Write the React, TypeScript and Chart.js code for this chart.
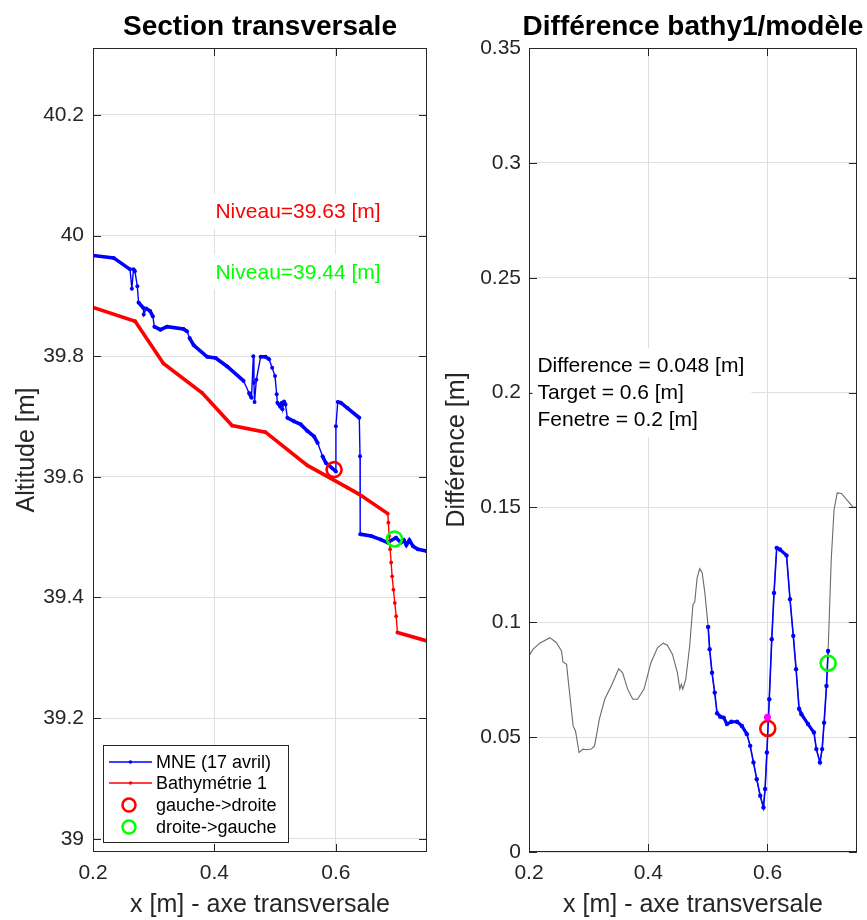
import React, { useEffect, useRef } from 'react';
import { Chart, registerables } from 'chart.js';

Chart.register(...registerables);

const W = 867;
const H = 920;
const FONT = '"Liberation Sans", Arial, Helvetica, sans-serif';
const INK = '#262626';
const GRID = '#dfdfdf';

// ---------------- Left panel : Section transversale ----------------
const leftTitle = 'Section transversale';
const leftYLabel = 'Altitude [m]';
const xLabel = 'x [m] - axe transversale';

const mneX = [
  0.2, 0.234, 0.261, 0.264, 0.2667, 0.269, 0.273, 0.275, 0.283, 0.2835, 0.2876, 0.294, 0.2986, 0.301,
  0.311, 0.322, 0.349, 0.355, 0.359, 0.366, 0.388, 0.402, 0.421, 0.448, 0.457, 0.461, 0.464, 0.465,
  0.466, 0.469, 0.476, 0.484, 0.49, 0.495, 0.4997, 0.5025, 0.5036, 0.508, 0.511, 0.512, 0.5146, 0.517,
  0.52, 0.531, 0.542, 0.553, 0.564, 0.57, 0.578, 0.5835, 0.6, 0.6, 0.603, 0.608, 0.619, 0.6385, 0.6397,
  0.64, 0.658, 0.674, 0.685, 0.699, 0.707, 0.712, 0.716, 0.721, 0.727, 0.735, 0.749, 0.75,
];
const mneY = [
  39.967, 39.963, 39.944, 39.912, 39.944, 39.941, 39.916, 39.889, 39.88, 39.869, 39.879, 39.875, 39.866, 39.849,
  39.844, 39.849, 39.845, 39.841, 39.83, 39.818, 39.799, 39.797, 39.783, 39.759, 39.739, 39.731, 39.8, 39.756,
  39.724, 39.761, 39.799, 39.799, 39.795, 39.781, 39.767, 39.737, 39.723, 39.717, 39.723, 39.712, 39.725, 39.72,
  39.698, 39.692, 39.687, 39.676, 39.667, 39.656, 39.634, 39.623, 39.609, 39.684, 39.724, 39.723, 39.714, 39.698, 39.634,
  39.505, 39.502, 39.496, 39.491, 39.499, 39.491, 39.495, 39.487, 39.495, 39.485, 39.48, 39.477, 39.477,
];

const bathyX = [
  0.2, 0.2694, 0.316, 0.38, 0.429, 0.484, 0.553, 0.619, 0.6385, 0.6854, 0.6864, 0.6876, 0.6893, 0.6909,
  0.6926, 0.6947, 0.697, 0.6992, 0.7013, 0.75,
];
const bathyY = [
  39.881, 39.858, 39.788, 39.739, 39.685, 39.674, 39.619, 39.582, 39.571, 39.539, 39.524, 39.502, 39.48, 39.458,
  39.435, 39.413, 39.391, 39.369, 39.342, 39.328,
];

const crossLRX = [0.597];
const crossLRY = [39.612];
const crossRLX = [0.6964];
const crossRLY = [39.497];

const niveauTexts = ['Niveau=39.63 [m]', 'Niveau=39.44 [m]'];
const niveauX = [0.4, 0.4];
const niveauY = [40.04, 39.94];

const legendLabels = ['MNE (17 avril)', 'Bathymétrie 1', 'gauche->droite', 'droite->gauche'];

// ---------------- Right panel : Différence bathy1/modèle ----------------
const rightTitle = 'Différence bathy1/modèle';
const rightYLabel = 'Différence [m]';

const diffX = [
  0.2, 0.207, 0.218, 0.235, 0.246, 0.2545, 0.257, 0.263, 0.268, 0.274, 0.278, 0.284, 0.2905, 0.296, 0.3045,
  0.31, 0.318, 0.327, 0.338, 0.3505, 0.357, 0.3655, 0.374, 0.382, 0.393, 0.4045, 0.4155, 0.425, 0.432, 0.4405,
  0.449, 0.453, 0.4555, 0.458, 0.463, 0.4695, 0.475, 0.478, 0.482, 0.4865, 0.4905, 0.495,
  0.5005, 0.503, 0.507, 0.5115, 0.5155, 0.521, 0.5265, 0.532, 0.5395, 0.549, 0.557, 0.5655, 0.571, 0.5765,
  0.582, 0.5878, 0.5933, 0.596, 0.599, 0.603, 0.6072, 0.611, 0.6155, 0.621, 0.632, 0.6378, 0.6433, 0.648,
  0.653, 0.657, 0.668, 0.678, 0.682, 0.688, 0.6917, 0.695, 0.699, 0.7017,
  0.707, 0.7117, 0.717, 0.724, 0.735, 0.7433, 0.75,
];
const diffY = [
  0.0854, 0.0883, 0.0909, 0.0933, 0.0911, 0.0875, 0.0827, 0.0817, 0.0694, 0.0549, 0.0527, 0.0433, 0.0448, 0.0445, 0.0448,
  0.0462, 0.0578, 0.0665, 0.0723, 0.0798, 0.078, 0.0709, 0.0665, 0.0665, 0.0709, 0.0824, 0.0889, 0.0909, 0.09, 0.0861,
  0.078, 0.0709, 0.073, 0.0709, 0.0752, 0.0897, 0.1078, 0.1088, 0.1193, 0.1233, 0.1215, 0.1128,
  0.098, 0.0883, 0.078, 0.0694, 0.0604, 0.0589, 0.0585, 0.0557, 0.0567, 0.0567, 0.0549, 0.0513, 0.0462, 0.039,
  0.0317, 0.0245, 0.0194, 0.0274, 0.0433, 0.0665, 0.0926, 0.1128, 0.1324, 0.1317, 0.1291, 0.11, 0.0941, 0.0796,
  0.0624, 0.06, 0.0557, 0.052, 0.0448, 0.039, 0.0448, 0.0563, 0.0723, 0.0875,
  0.1274, 0.1491, 0.1563, 0.1561, 0.1527, 0.1501, 0.1502,
];
const windowFrom = 0.5;
const windowTo = 0.702;

const diffLRX = [0.6005];
const diffLRY = [0.0538];
const diffRLX = [0.7017];
const diffRLY = [0.0822];
const targetX = [0.6];
const targetY = [0.0587];

const infoLines = ['Difference = 0.048 [m]', 'Target = 0.6 [m]', 'Fenetre = 0.2 [m]'];
const infoX = 0.2125;
const infoY = 0.2;

// ---------------- helpers ----------------
const pts = (xs: number[], ys: number[]) => xs.map((x, i) => ({ x, y: ys[i] }));
const fmt = (v: any) => String(Math.round(Number(v) * 1000) / 1000);

const segWidth = (thick: number, thin: number) => (ctx: any) => {
  const dx = Math.abs(ctx.p1.x - ctx.p0.x);
  const dy = Math.abs(ctx.p1.y - ctx.p0.y);
  return dy > 2 * dx && dy > 6 ? thin : thick;
};

type TextBlock = { x: number; y: number; lines: string[]; color: string };

function makeDecor(title: string, blocks: TextBlock[], legend: boolean) {
  return {
    id: 'decor',
    afterDatasetsDraw(chart: any) {
      const { ctx, chartArea: a, scales } = chart;
      const xs = scales.x;
      const ys = scales.y;
      ctx.save();
      // axes box
      ctx.strokeStyle = INK;
      ctx.lineWidth = 1;
      ctx.strokeRect(Math.round(a.left) + 0.5, Math.round(a.top) + 0.5, Math.round(a.right - a.left) - 1, Math.round(a.bottom - a.top) - 1);
      // inward ticks on all sides
      const TL = 8;
      ctx.beginPath();
      xs.ticks.forEach((t: any) => {
        const px = Math.round(xs.getPixelForValue(t.value)) + 0.5;
        ctx.moveTo(px, a.bottom);
        ctx.lineTo(px, a.bottom - TL);
        ctx.moveTo(px, a.top);
        ctx.lineTo(px, a.top + TL);
      });
      ys.ticks.forEach((t: any) => {
        const py = Math.round(ys.getPixelForValue(t.value)) + 0.5;
        ctx.moveTo(a.left, py);
        ctx.lineTo(a.left + TL, py);
        ctx.moveTo(a.right, py);
        ctx.lineTo(a.right - TL, py);
      });
      ctx.stroke();

      // title
      ctx.font = `bold 28px ${FONT}`;
      ctx.fillStyle = '#000';
      ctx.textAlign = 'center';
      ctx.textBaseline = 'alphabetic';
      ctx.fillText(title, (a.left + a.right) / 2, 35);

      // text annotations with white background
      ctx.font = `21px ${FONT}`;
      const lh = 27;
      blocks.forEach((b) => {
        const px = xs.getPixelForValue(b.x);
        const py = ys.getPixelForValue(b.y);
        const w = Math.max(...b.lines.map((l) => ctx.measureText(l).width));
        const h = lh * b.lines.length;
        ctx.fillStyle = '#fff';
        ctx.fillRect(px - 4, py - h / 2 - 4, w + 12, h + 8);
        ctx.fillStyle = b.color;
        ctx.textAlign = 'left';
        ctx.textBaseline = 'middle';
        b.lines.forEach((l, i) => ctx.fillText(l, px + 1, py - h / 2 + lh * (i + 0.5) + 1));
      });

      // legend (south-west)
      if (legend) {
        const L = a.left + 10;
        const B = a.bottom - 10;
        const bw = 185;
        const bh = 97;
        const T = B - bh;
        ctx.fillStyle = '#fff';
        ctx.fillRect(L, T, bw, bh);
        ctx.strokeStyle = INK;
        ctx.lineWidth = 1;
        ctx.strokeRect(Math.round(L) + 0.5, Math.round(T) + 0.5, bw, bh);
        const rows = [17, 38, 60, 82];
        const colors = ['#0000ff', '#ff0000', '#ff0000', '#00ff00'];
        ctx.font = `18px ${FONT}`;
        rows.forEach((ry, i) => {
          const y = T + ry;
          if (i < 2) {
            ctx.strokeStyle = colors[i];
            ctx.lineWidth = 1.3;
            ctx.beginPath();
            ctx.moveTo(L + 6, y);
            ctx.lineTo(L + 49, y);
            ctx.stroke();
            ctx.fillStyle = colors[i];
            ctx.beginPath();
            ctx.arc(L + 27.5, y, 1.8, 0, Math.PI * 2);
            ctx.fill();
          } else {
            ctx.strokeStyle = colors[i];
            ctx.lineWidth = 2.5;
            ctx.beginPath();
            ctx.arc(L + 26, y, 6.5, 0, Math.PI * 2);
            ctx.stroke();
          }
          ctx.fillStyle = '#000';
          ctx.textAlign = 'left';
          ctx.textBaseline = 'middle';
          ctx.fillText(legendLabels[i], L + 53, y + 1);
        });
      }
      ctx.restore();
    },
  };
}

function xScale() {
  return {
    type: 'linear',
    min: 0.2,
    max: 0.75,
    afterFit: (s: any) => {
      s.height = 68;
    },
    ticks: {
      stepSize: 0.2,
      includeBounds: false,
      padding: 9,
      maxRotation: 0,
      autoSkip: false,
      color: INK,
      font: { size: 21, family: FONT },
      callback: fmt,
    },
    grid: { color: GRID, drawTicks: false, lineWidth: 1 },
    border: { display: false },
    title: {
      display: true,
      text: xLabel,
      color: INK,
      font: { size: 25, family: FONT },
      padding: { top: 0, bottom: 0 },
    },
  };
}

function yScale(min: number, max: number, step: number, width: number, label: string, pad: number) {
  return {
    type: 'linear',
    min,
    max,
    afterFit: (s: any) => {
      s.width = width;
    },
    ticks: {
      stepSize: step,
      includeBounds: false,
      padding: pad,
      autoSkip: false,
      color: INK,
      font: { size: 21, family: FONT },
      callback: fmt,
    },
    grid: { color: GRID, drawTicks: false, lineWidth: 1 },
    border: { display: false },
    title: {
      display: true,
      text: label,
      color: INK,
      font: { size: 25, family: FONT },
      padding: { top: 12, bottom: 0 },
    },
  };
}

const circle = (label: string, data: any[], color: string, order: number) => ({
  label,
  data,
  showLine: false,
  pointRadius: 7.5,
  pointHoverRadius: 7.5,
  pointBorderWidth: 2.6,
  borderColor: color,
  backgroundColor: 'rgba(0,0,0,0)',
  order,
});

function leftConfig(): any {
  return {
    type: 'scatter',
    data: {
      datasets: [
        {
          label: legendLabels[0],
          data: pts(mneX, mneY),
          showLine: true,
          borderColor: '#0000ff',
          backgroundColor: '#0000ff',
          borderWidth: 3.6,
          pointRadius: 2,
          pointBorderWidth: 0,
          segment: { borderWidth: segWidth(3.6, 1.4) },
          order: 3,
        },
        {
          label: legendLabels[1],
          data: pts(bathyX, bathyY),
          showLine: true,
          borderColor: '#ff0000',
          backgroundColor: '#ff0000',
          borderWidth: 3.6,
          pointRadius: 1.9,
          pointBorderWidth: 0,
          segment: { borderWidth: segWidth(3.6, 1.4) },
          order: 2,
        },
        circle(legendLabels[2], pts(crossLRX, crossLRY), '#ff0000', 1),
        circle(legendLabels[3], pts(crossRLX, crossRLY), '#00ff00', 0),
      ],
    },
    options: {
      animation: false,
      responsive: false,
      devicePixelRatio: 1,
      events: [],
      layout: { padding: { left: 0, right: W - 427, top: 48, bottom: 0 } },
      plugins: { legend: { display: false }, tooltip: { enabled: false }, title: { display: false } },
      scales: {
        x: xScale(),
        y: yScale(38.978, 40.311, 0.2, 93, leftYLabel, 9),
      },
    },
    plugins: [
      makeDecor(
        leftTitle,
        [
          { x: niveauX[0], y: niveauY[0], lines: [niveauTexts[0]], color: '#ff0000' },
          { x: niveauX[1], y: niveauY[1], lines: [niveauTexts[1]], color: '#00ff00' },
        ],
        true,
      ),
    ],
  };
}

function rightConfig(): any {
  const inWin = diffX.map((x, i) => ({ x, y: diffY[i] })).filter((p) => p.x >= windowFrom && p.x <= windowTo);
  return {
    type: 'scatter',
    data: {
      datasets: [
        {
          label: 'difference',
          data: pts(diffX, diffY),
          showLine: true,
          borderColor: '#6a6a6a',
          borderWidth: 1.1,
          pointRadius: 0,
          order: 5,
        },
        {
          label: 'fenetre',
          data: inWin,
          showLine: true,
          borderColor: '#0000ff',
          backgroundColor: '#0000ff',
          borderWidth: 3.2,
          pointRadius: 2.2,
          pointBorderWidth: 0,
          segment: { borderWidth: segWidth(3.2, 1.6) },
          order: 4,
        },
        circle('gauche->droite', pts(diffLRX, diffLRY), '#ff0000', 2),
        circle('droite->gauche', pts(diffRLX, diffRLY), '#00ff00', 1),
        {
          label: 'target',
          data: pts(targetX, targetY),
          showLine: false,
          pointRadius: 3.5,
          pointBorderWidth: 0,
          backgroundColor: '#ff00ff',
          borderColor: '#ff00ff',
          order: 0,
        },
      ],
    },
    options: {
      animation: false,
      responsive: false,
      devicePixelRatio: 1,
      events: [],
      layout: { padding: { left: 430, right: W - 860, top: 48, bottom: 0 } },
      plugins: { legend: { display: false }, tooltip: { enabled: false }, title: { display: false } },
      scales: {
        x: xScale(),
        y: yScale(0, 0.35, 0.05, 99, rightYLabel, 8),
      },
    },
    plugins: [makeDecor(rightTitle, [{ x: infoX, y: infoY, lines: infoLines, color: '#000' }], false)],
  };
}

export default function App() {
  const leftRef = useRef<HTMLCanvasElement>(null);
  const rightRef = useRef<HTMLCanvasElement>(null);

  useEffect(() => {
    Chart.defaults.font.family = FONT;
    Chart.defaults.color = INK;
    const c1 = new Chart(leftRef.current as HTMLCanvasElement, leftConfig());
    const c2 = new Chart(rightRef.current as HTMLCanvasElement, rightConfig());
    return () => {
      c1.destroy();
      c2.destroy();
    };
  }, []);

  const cs: React.CSSProperties = { position: 'absolute', left: 0, top: 0, width: W, height: H };
  return (
    <div style={{ position: 'absolute', left: 0, top: 0, width: W, height: H, background: '#fff', overflow: 'hidden' }}>
      <canvas ref={leftRef} width={W} height={H} style={cs} />
      <canvas ref={rightRef} width={W} height={H} style={cs} />
    </div>
  );
}
